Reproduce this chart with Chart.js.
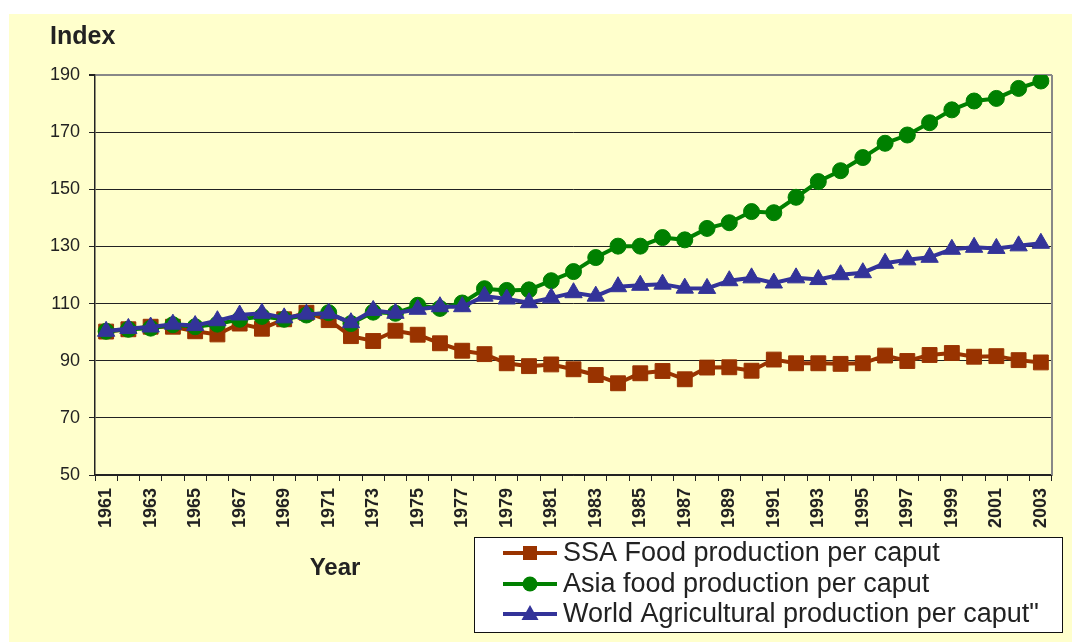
<!DOCTYPE html>
<html>
<head>
<meta charset="utf-8">
<script src="https://cdn.jsdelivr.net/npm/chart.js@4.4.1/dist/chart.umd.min.js"></script>
<style>
  body { margin: 0; background: #fff; }
  #wrap { width: 1072px; height: 642px; position: relative; }
</style>
</head>
<body>
<div id="wrap"><canvas id="chart"></canvas></div>
<script>
const years = ["1961","1962","1963","1964","1965","1966","1967","1968","1969","1970",
  "1971","1972","1973","1974","1975","1976","1977","1978","1979","1980",
  "1981","1982","1983","1984","1985","1986","1987","1988","1989","1990",
  "1991","1992","1993","1994","1995","1996","1997","1998","1999","2000",
  "2001","2002","2003"];

const ssaFood = [100.2, 101, 101.9, 101.9, 100.3, 99.2, 103, 101.2, 104.5, 106.8,
  104.2, 98.6, 96.9, 100.5, 99.1, 96.1, 93.5, 92.3, 89.1, 88.1,
  88.7, 87, 85, 82.1, 85.6, 86.4, 83.5, 87.6, 87.7, 86.5,
  90.4, 89.1, 89.1, 88.9, 89.1, 91.8, 89.9, 92, 92.7, 91.4,
  91.6, 90.2, 89.4];

const asiaFood = [100.3, 101, 101.4, 102.6, 101.9, 102.8, 104.5, 105.5, 104.5, 106,
  106.8, 103, 107, 106.6, 109.4, 108.3, 110.2, 115.2, 114.6, 114.8,
  118, 121.2, 126.1, 130.1, 130.1, 133.1, 132.3, 136.3, 138.3, 142.2,
  141.8, 147.2, 152.7, 156.5, 161.1, 166.1, 169, 173.3, 177.8, 180.9,
  181.8, 185.3, 187.9];

const worldAgri = [100.3, 101.3, 101.8, 102.8, 102.3, 104, 106, 106.6, 105, 106.3,
  106.6, 103.3, 107.6, 106.6, 108, 108.9, 108.9, 112.6, 111.6, 110.3,
  112, 113.8, 112.6, 115.9, 116.4, 116.8, 115.4, 115.3, 118, 119,
  117.2, 119, 118.4, 120.1, 120.8, 124.1, 125.3, 126.2, 129, 129.7,
  129.3, 130.2, 131.1];

const seriesNames = ["SSA Food production per caput", "Asia food production per caput",
  "World Agricultural production per caput\""];

const FONT = "'Liberation Sans', Arial, Helvetica, sans-serif";
const YELLOW = "#FFFFCC";

// background, titles, border and legend
const decor = {
  id: "decor",
  beforeDraw(chart) {
    const ctx = chart.ctx;
    ctx.save();
    ctx.fillStyle = "#fff";
    ctx.fillRect(0, 0, chart.width, chart.height);
    ctx.fillStyle = YELLOW;
    ctx.fillRect(9, 14, chart.width - 9, chart.height - 14);
    ctx.restore();
  },
  afterDraw(chart) {
    const ctx = chart.ctx;
    const a = chart.chartArea;
    ctx.save();

    // right border of plot
    ctx.strokeStyle = "#888";
    ctx.lineWidth = 2;
    ctx.beginPath();
    ctx.moveTo(a.right, a.top);
    ctx.lineTo(a.right, a.bottom);
    ctx.stroke();

    ctx.fillStyle = "#222";
    ctx.font = "bold 25px " + FONT;
    ctx.textBaseline = "alphabetic";
    ctx.textAlign = "left";
    ctx.fillText("Index", 50, 44);
    ctx.font = "bold 24px " + FONT;
    ctx.textAlign = "center";
    ctx.fillText("Year", 335, 575);

    // legend box
    ctx.fillStyle = "#fff";
    ctx.fillRect(474, 537, 588, 95);
    ctx.strokeStyle = "#111";
    ctx.lineWidth = 1;
    ctx.strokeRect(474.5, 537.5, 588, 95);

    const rows = [553, 584, 614];
    chart.data.datasets.forEach((ds, i) => {
      const y = rows[i];
      ctx.strokeStyle = ds.borderColor;
      ctx.lineWidth = 4;
      ctx.beginPath();
      ctx.moveTo(503, y);
      ctx.lineTo(557, y);
      ctx.stroke();
      ctx.fillStyle = ds.borderColor;
      ctx.beginPath();
      if (ds.pointStyle === "rect") {
        ctx.rect(523, y - 7, 14, 14);
      } else if (ds.pointStyle === "circle") {
        ctx.arc(530, y, 7.5, 0, Math.PI * 2);
      } else {
        ctx.moveTo(530, y - 9);
        ctx.lineTo(538.5, y + 6);
        ctx.lineTo(521.5, y + 6);
        ctx.closePath();
      }
      ctx.fill();
      ctx.fillStyle = "#222";
      ctx.font = "27px " + FONT;
      ctx.textAlign = "left";
      ctx.textBaseline = "middle";
      ctx.fillText(seriesNames[i], 563, y + 1);
    });
    ctx.restore();
  }
};

new Chart(document.getElementById("chart"), {
  type: "line",
  data: {
    labels: years,
    datasets: [
      {
        label: seriesNames[0],
        data: ssaFood,
        borderColor: "#993300",
        backgroundColor: "#993300",
        pointBackgroundColor: "#993300",
        pointBorderColor: "#993300",
        pointStyle: "rect",
        pointRadius: 10.5,
        pointBorderWidth: 1,
        borderWidth: 4,
        tension: 0,
        order: 2
      },
      {
        label: seriesNames[1],
        data: asiaFood,
        borderColor: "#008000",
        backgroundColor: "#008000",
        pointBackgroundColor: "#008000",
        pointBorderColor: "#008000",
        pointStyle: "circle",
        pointRadius: 8,
        pointBorderWidth: 1,
        borderWidth: 4,
        tension: 0,
        order: 1
      },
      {
        label: seriesNames[2],
        data: worldAgri,
        borderColor: "#333399",
        backgroundColor: "#333399",
        pointBackgroundColor: "#333399",
        pointBorderColor: "#333399",
        pointStyle: "triangle",
        pointRadius: 10,
        pointBorderWidth: 1,
        borderWidth: 4,
        tension: 0,
        order: 0
      }
    ]
  },
  options: {
    responsive: true,
    maintainAspectRatio: false,
    animation: false,
    layout: { padding: { top: 75, right: 20, bottom: 0, left: 0 } },
    plugins: {
      legend: { display: false },
      tooltip: { enabled: false }
    },
    scales: {
      x: {
        type: "category",
        offset: true,
        grid: { offset: true, drawOnChartArea: false, tickLength: 6, tickColor: "#222", lineWidth: 1 },
        border: { color: "#222", width: 1.5 },
        ticks: {
          autoSkip: false,
          maxRotation: 90,
          minRotation: 90,
          padding: 7,
          color: "#222",
          font: { family: FONT, size: 18, weight: "bold" },
          callback: function(v, i) {
            return i % 2 === 0 ? this.getLabelForValue(v) : "";
          }
        },
        afterFit(s) { s.height = 167; }
      },
      y: {
        min: 50,
        max: 190,
        grid: {
          color: (c) => (c.tick && c.tick.value === 190 ? "#888" : "#222"),
          lineWidth: (c) => (c.tick && c.tick.value === 190 ? 2 : 1),
          tickLength: 6,
          tickColor: "#222"
        },
        border: { color: "#222", width: 1.5 },
        ticks: {
          stepSize: 20,
          padding: 9,
          color: "#222",
          font: { family: FONT, size: 18 }
        },
        afterFit(s) { s.width = 95; }
      }
    }
  },
  plugins: [decor]
});
</script>
</body>
</html>
